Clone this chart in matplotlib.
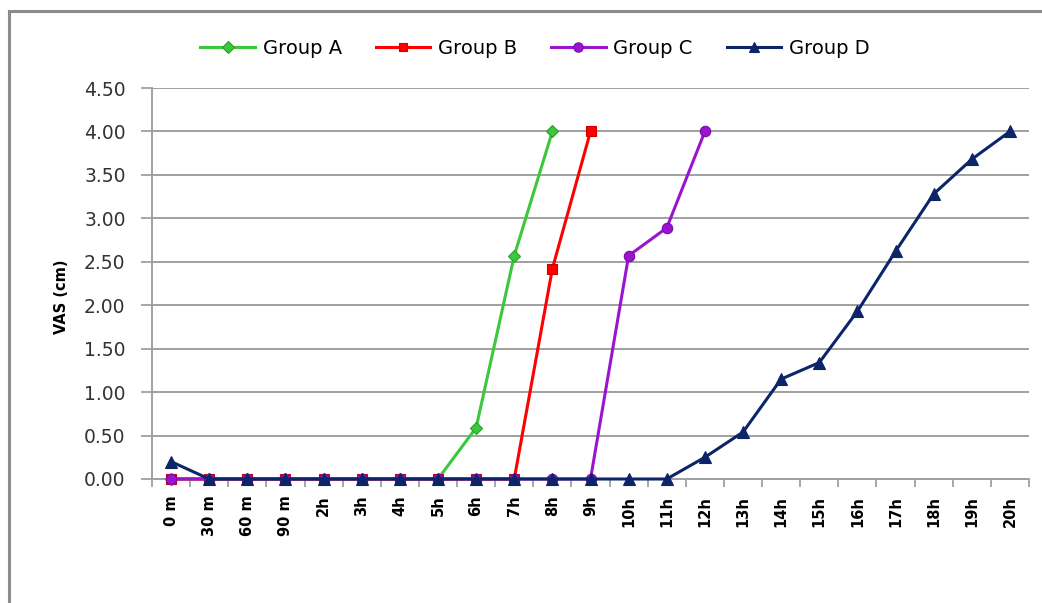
import matplotlib
matplotlib.use("Agg")
import matplotlib.pyplot as plt
from matplotlib.lines import Line2D

# Time points after treatment
time_labels = ["0 m", "30 m", "60 m", "90 m", "2h", "3h", "4h", "5h", "6h", "7h",
               "8h", "9h", "10h", "11h", "12h", "13h", "14h", "15h", "16h", "17h",
               "18h", "19h", "20h"]

# Mean VAS scores (cm) per group; each series stops once it reaches 4.00
group_a = [0, 0, 0, 0, 0, 0, 0, 0, 0.59, 2.57, 4.00]
group_b = [0, 0, 0, 0, 0, 0, 0, 0, 0, 0, 2.42, 4.00]
group_c = [0, 0, 0, 0, 0, 0, 0, 0, 0, 0, 0, 0, 2.57, 2.89, 4.00]
group_d = [0.20, 0, 0, 0, 0, 0, 0, 0, 0, 0, 0, 0, 0, 0, 0.25, 0.54, 1.15, 1.34,
           1.93, 2.62, 3.28, 3.68, 4.00]

y_ticks = [0.0, 0.5, 1.0, 1.5, 2.0, 2.5, 3.0, 3.5, 4.0, 4.5]

series = [
    ("Group A", group_a, "#3cc83c", "#2a9e2a", "D", 6.5),
    ("Group B", group_b, "#ff0000", "#cc0000", "s", 7),
    ("Group C", group_c, "#9a14d0", "#7a0aa8", "o", 7.5),
    ("Group D", group_d, "#0c2468", "#0c2468", "^", 8),
]

W, H = 1042, 603
fig = plt.figure(figsize=(W / 100, H / 100), dpi=100)
fig.patch.set_facecolor("white")

# chart border (top and left edges)
fig.add_artist(Line2D([8.5 / W, 1.0], [1 - 11 / H, 1 - 11 / H], color="#8c8c8c", lw=2.2,
                      transform=fig.transFigure))
fig.add_artist(Line2D([8.5 / W, 8.5 / W], [0.0, 1 - 11 / H], color="#8c8c8c", lw=2.2,
                      transform=fig.transFigure))

ax = fig.add_axes([152 / W, 1 - 479 / H, (1029 - 152) / W, (479 - 88) / H])

x_all = list(range(len(time_labels)))
handles = []
for z, (name, vals, color, edge, marker, ms) in enumerate(series):
    xs = x_all[:len(vals)]
    (ln,) = ax.plot(xs, vals, color=color, lw=2.2, marker=marker, markersize=ms,
                    markerfacecolor=color, markeredgecolor=edge, markeredgewidth=0.8,
                    label=name, zorder=3 + z, clip_on=False)
    handles.append(ln)

ax.set_xlim(-0.5, len(time_labels) - 0.5)
ax.set_ylim(0, 4.5)
ax.set_yticks(y_ticks)
ax.set_yticklabels([f"{v:.2f}" for v in y_ticks], fontsize=13.5, color="#333333")
ax.set_xticks(x_all)
ax.set_xticklabels(time_labels, rotation=90, fontsize=10.5, fontweight="bold")
ax.set_xticks([i - 0.5 for i in range(len(time_labels) + 1)], minor=True)
ax.tick_params(axis="x", which="major", length=0, pad=12)
ax.tick_params(axis="x", which="minor", length=6, width=1.3, color="#a0a0a0", direction="out")
ax.tick_params(axis="y", length=8, width=1.3, color="#a0a0a0", pad=11)

ax.yaxis.grid(True, color="#a0a0a0", lw=1.4)
ax.set_axisbelow(True)
for s in ["top", "right"]:
    ax.spines[s].set_visible(False)
for s in ["left", "bottom"]:
    ax.spines[s].set_color("#a0a0a0")
    ax.spines[s].set_linewidth(1.4)

fig.text(62 / W, 1 - 297 / H, "VAS (cm)", rotation=90, ha="center", va="center",
         fontsize=10.5, fontweight="bold")

fig.legend(handles=handles, loc="center", bbox_to_anchor=(535 / W, 1 - 48 / H), ncol=4,
           frameon=False, handlelength=2.8, handletextpad=0.4,
           columnspacing=1.75, markerscale=0.9, prop={"size": 14})

fig.savefig("out.png", dpi=100, facecolor="white")
